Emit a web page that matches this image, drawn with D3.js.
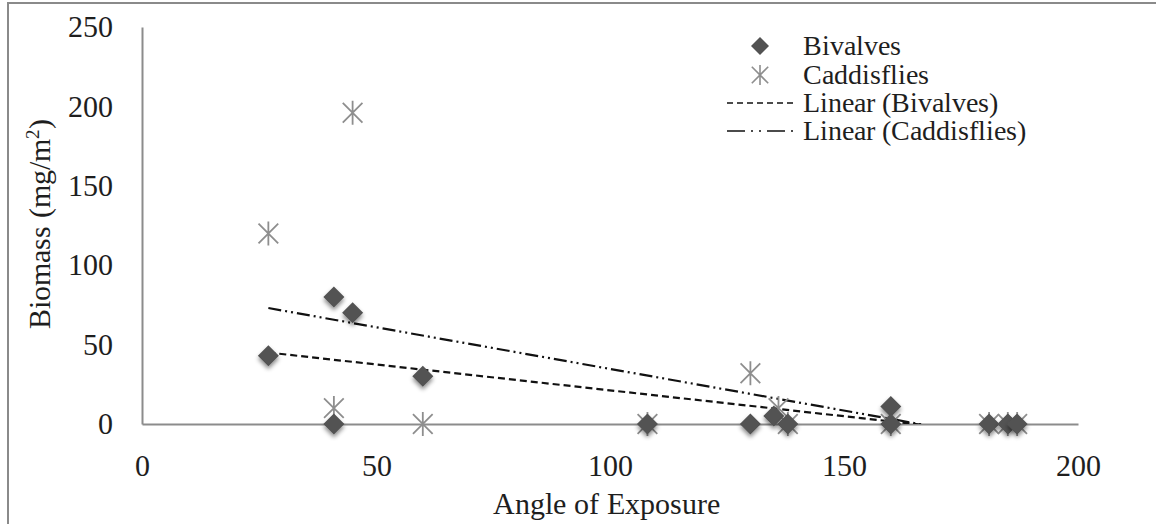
<!DOCTYPE html>
<html><head><meta charset="utf-8">
<script src="https://cdn.jsdelivr.net/npm/d3@7"></script>
<style>
@font-face{font-family:"RefSerif";src:local("Liberation Serif"),local("LiberationSerif"),local("LiberationSerif-Regular"),local("Times New Roman"),local("DejaVu Serif"),local("DejaVuSerif"),local("Noto Serif"),local("NotoSerif-Regular");}
body{margin:0;background:#fff}
svg{display:block}
svg text{fill:#1e1e1e}
</style>
</head><body>
<svg id="c" width="1156" height="524"></svg>
<script>
// ---- data ----
const bivalveX = [27, 41, 41, 45, 60, 108, 130, 135, 138, 160, 160, 181, 185, 187];
const bivalveY = [43, 80, 0, 70, 30, 0, 0, 5, 0, 11, 0, 0, 0, 0];
const caddisX  = [27, 41, 45, 60, 108, 130, 136, 138, 160, 181, 185, 187];
const caddisY  = [120, 10, 196, 0, 0, 32, 10, 0, 0, 0, 0, 0];
// linear trend lines as drawn in the picture: [intercept, slope]
const trendBivalves = [53.8, -0.326];
const trendCaddis   = [87.2, -0.525];
const xTicks = [0, 50, 100, 150, 200];
const yTicks = [0, 50, 100, 150, 200, 250];
const seriesNames = ["Bivalves", "Caddisflies", "Linear (Bivalves)", "Linear (Caddisflies)"];
const xTitle = "Angle of Exposure";

// ---- layout ----
const FONT = '"RefSerif","Liberation Serif","DejaVu Serif","Noto Serif",serif';
const svg = d3.select("#c");
const L = 142, R = 1078, T = 27, B = 424;
const x = d3.scaleLinear().domain([0, 200]).range([L, R]);
const y = d3.scaleLinear().domain([0, 250]).range([B, T]);

const defs = svg.append("defs");
const sh = defs.append("filter").attr("id", "shadow").attr("x", "-50%").attr("y", "-50%").attr("width", "200%").attr("height", "220%");
sh.append("feDropShadow").attr("dx", 0).attr("dy", 3).attr("stdDeviation", 2.2).attr("flood-color", "#000").attr("flood-opacity", 0.45);
const gl = defs.append("filter").attr("id", "glow").attr("x", "-50%").attr("y", "-50%").attr("width", "200%").attr("height", "200%");
gl.append("feGaussianBlur").attr("stdDeviation", 0.6);
defs.append("clipPath").attr("id", "plot").append("rect")
  .attr("x", L).attr("y", T).attr("width", R - L).attr("height", B - T);

// outer border
svg.append("rect").attr("x", 8).attr("y", 3).attr("width", 1170).attr("height", 540)
  .attr("fill", "none").attr("stroke", "#8a8a8a").attr("stroke-width", 2);

// axes
const ax = svg.append("g").attr("transform", `translate(0,${B})`)
  .call(d3.axisBottom(x).tickValues(xTicks).tickSize(0).tickSizeOuter(0).tickPadding(31).tickFormat(d3.format("d")));
const ay = svg.append("g").attr("transform", `translate(${L},0)`)
  .call(d3.axisLeft(y).tickValues(yTicks).tickSize(0).tickSizeOuter(0).tickPadding(29).tickFormat(d3.format("d")));
[ax, ay].forEach(g => {
  g.attr("font-family", FONT);
  g.select(".domain").attr("stroke", "#8c8c8c").attr("stroke-width", 2);
  g.selectAll("text").attr("font-size", 30).attr("fill", "#1e1e1e").style("font-family", FONT);
});

// axis titles
svg.append("text").attr("x", (L + R) / 2 - 4).attr("y", 514).attr("text-anchor", "middle")
  .style("font-family", FONT).attr("font-size", 30).text(xTitle);
const yt = svg.append("text").attr("transform", "translate(50,224) rotate(-90)")
  .attr("text-anchor", "middle").style("font-family", FONT).attr("font-size", 30);
yt.append("tspan").text("Biomass (mg/m");
yt.append("tspan").attr("dy", -11).attr("font-size", 19).text("2");
yt.append("tspan").attr("dy", 11).text(")");

// trend lines
const plot = svg.append("g").attr("clip-path", "url(#plot)");
function trend(coef, xs, dash) {
  const x0 = d3.min(xs), x1 = d3.max(xs);
  const pts = [[x0, coef[0] + coef[1] * x0], [x1, coef[0] + coef[1] * x1]];
  plot.append("path").attr("d", d3.line().x(d => x(d[0])).y(d => y(d[1]))(pts))
    .attr("fill", "none").attr("stroke", "#111").attr("stroke-width", 2.2)
    .attr("stroke-dasharray", dash);
}

const diamond = r => `M0,${-r}L${r},0L0,${r}L${-r},0Z`;
const star = r => {
  const d = r * 0.82;
  return `M0,${-r}L0,${r}M${-d},${-d}L${d},${d}M${-d},${d}L${d},${-d}`;
};

// caddisfly markers (drawn first, behind)
const cad = d3.zip(caddisX, caddisY);
svg.append("g").selectAll("path").data(cad).join("path")
  .attr("transform", d => `translate(${x(d[0])},${y(d[1])})`)
  .attr("d", star(12)).attr("fill", "none").attr("stroke", "#8e8e8e").attr("stroke-width", 1.8)
  .attr("filter", "url(#glow)");

// bivalve markers
const biv = d3.zip(bivalveX, bivalveY);
svg.append("g").selectAll("path").data(biv).join("path")
  .attr("transform", d => `translate(${x(d[0])},${y(d[1])})`)
  .attr("d", diamond(10.5)).attr("fill", "#525252").attr("filter", "url(#shadow)");

trend(trendBivalves, bivalveX, "7,4");
trend(trendCaddis, caddisX, "13,4,2,4,2,4");

// legend
const lg = svg.append("g");
const rows = [46, 75, 103, 131];
lg.append("path").attr("transform", `translate(760,${rows[0]})`).attr("d", diamond(9)).attr("fill", "#525252");
lg.append("path").attr("transform", `translate(760,${rows[1]})`).attr("d", star(10))
  .attr("fill", "none").attr("stroke", "#8e8e8e").attr("stroke-width", 1.6);
lg.append("line").attr("x1", 727).attr("x2", 795).attr("y1", rows[2]).attr("y2", rows[2])
  .attr("stroke", "#111").attr("stroke-width", 1.6).attr("stroke-dasharray", "6,4");
lg.append("line").attr("x1", 727).attr("x2", 795).attr("y1", rows[3]).attr("y2", rows[3])
  .attr("stroke", "#111").attr("stroke-width", 1.6).attr("stroke-dasharray", "18,6,2,6,2,6");
lg.selectAll("text.l").data(seriesNames).join("text").attr("class", "l")
  .attr("x", 803).attr("y", (d, i) => rows[i]).attr("dy", "0.33em")
  .style("font-family", FONT).attr("font-size", 28).text(d => d);
</script>
</body></html>
